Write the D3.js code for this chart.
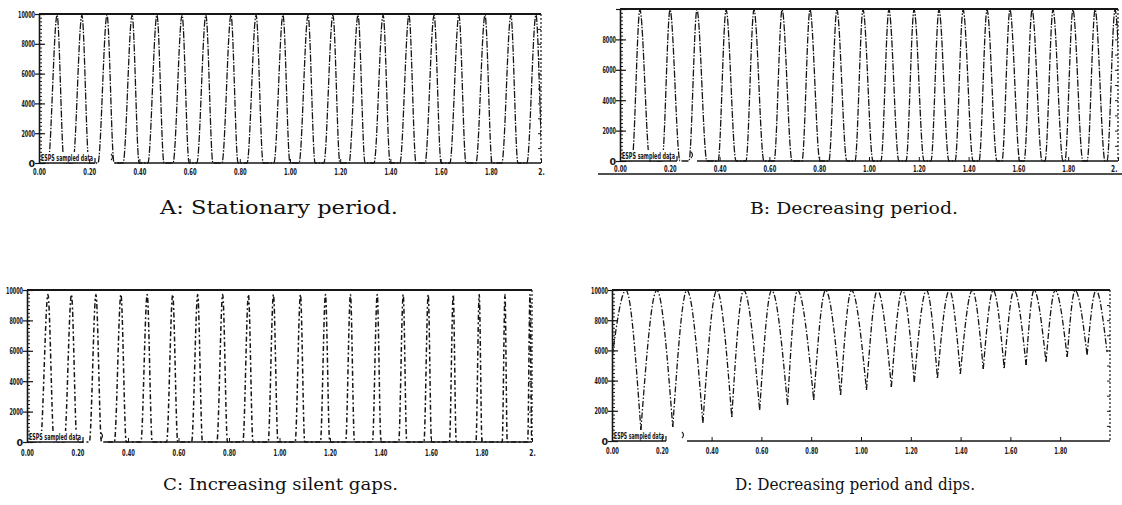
<!DOCTYPE html>
<html><head><meta charset="utf-8">
<script src="https://cdn.jsdelivr.net/npm/d3@7"></script>
<style>body{margin:0;background:#fff}svg{display:block}</style>
</head><body>
<svg id="c" width="1122" height="505"></svg>
<script>
// ---------- tick values / labels ----------
const yTickValues = [0, 2000, 4000, 6000, 8000, 10000];
const yTickLabels = ["0", "2000", "4000", "6000", "8000", "10000"];
const xTickValues = [0, 0.2, 0.4, 0.6, 0.8, 1.0, 1.2, 1.4, 1.6, 1.8, 2.0];
const xTickLabels = ["0.00","0.20","0.40","0.60","0.80","1.00","1.20","1.40","1.60","1.80","2."];
const boxText = "ESPS sampled data";
const captions = ["A: Stationary period.", "B: Decreasing period.", "C: Increasing silent gaps.", "D: Decreasing period and dips."];

// ---------- A: stationary period (pulse opening, peak, closing times in s) ----------
const aOpen  = [0.036,0.135,0.235,0.335,0.434,0.534,0.629,0.729,0.829,0.936,1.036,1.135,1.235,1.335,1.438,1.538,1.637,1.741,1.844,1.944];
const aPeak  = [0.072,0.171,0.271,0.371,0.470,0.570,0.665,0.765,0.865,0.972,1.072,1.171,1.271,1.371,1.474,1.574,1.673,1.777,1.880,1.980];
const aClose = [0.100,0.199,0.299,0.399,0.498,0.598,0.693,0.793,0.893,1.000,1.100,1.199,1.299,1.399,1.502,1.602,1.701,1.805,1.908,2.008];
const aAmp = 9930;

// ---------- B: decreasing period ----------
const bOpen  = [0.048,0.169,0.277,0.394,0.506,0.619,0.731,0.839,0.944,1.048,1.149,1.249,1.346,1.442,1.534,1.623,1.707,1.787,1.876,1.956];
const bPeak  = [0.080,0.201,0.309,0.426,0.538,0.651,0.763,0.871,0.976,1.080,1.181,1.281,1.378,1.474,1.566,1.655,1.739,1.819,1.908,1.988];
const bClose = [0.120,0.241,0.349,0.466,0.578,0.691,0.803,0.911,1.016,1.120,1.221,1.321,1.418,1.514,1.606,1.695,1.779,1.859,1.948,2.028];
const bAmp = 9950;

// ---------- C: increasing silent gaps ----------
const cOpen  = [0.053,0.148,0.247,0.346,0.451,0.553,0.652,0.752,0.855,0.955,1.062,1.162,1.262,1.368,1.472,1.572,1.673,1.778,1.882,1.983];
const cPeak  = [0.083,0.176,0.273,0.372,0.476,0.577,0.676,0.775,0.877,0.976,1.083,1.182,1.281,1.387,1.490,1.589,1.688,1.791,1.893,1.992];
const cClose = [0.107,0.198,0.295,0.393,0.496,0.597,0.695,0.794,0.895,0.994,1.100,1.199,1.297,1.402,1.504,1.602,1.700,1.802,1.902,1.999];
const cAmp = 9700;

// ---------- D: decreasing period and dips ----------
const dStart = 5500;
const dPeak   = [0.056,0.180,0.301,0.421,0.529,0.641,0.745,0.858,0.962,1.066,1.166,1.263,1.355,1.447,1.531,1.615,1.695,1.780,1.860,1.944];
const dDip    = [0.116,0.244,0.365,0.481,0.593,0.705,0.810,0.918,1.022,1.122,1.214,1.307,1.399,1.491,1.575,1.663,1.743,1.828,1.908,1.988];
const dDipVal = [730,930,1190,1590,2050,2380,2720,3050,3380,3580,3910,4170,4440,4770,4830,5030,5230,5560,5700,5890];
const dAmp = 9980;

// ---------- layout ----------
const panels = [
  {key:"A", x0:39,  x1:541,  yTop:14,  yBot:163, boxEnd:95,  markX:112, baseStart:115, labelY:175, topLabel:true,  dash:"7,1.5,1.5,1.5", capX:160, capY:214, capW:238, capFs:18},
  {key:"B", x0:620, x1:1118, yTop:9,   yBot:161, boxEnd:677, markX:692, baseStart:697, labelY:172, topLabel:false, dash:"7,1.5,1.5,1.5", capX:750, capY:214, capW:208, capFs:17, underline:174, lastEnd:true},
  {key:"C", x0:27,  x1:532,  yTop:290, yBot:442, boxEnd:83,  markX:102, baseStart:105, labelY:456, topLabel:true,  dash:"2,2.5,5,2.5",   capX:163, capY:490, capW:235, capFs:17},
  {key:"D", x0:612, x1:1110, yTop:290, yBot:441, boxEnd:666, markX:683, baseStart:687, labelY:454, topLabel:true,  dash:"6,2,1.5,2",     capX:735, capY:490, capW:240, capFs:17, noLast:true}
];

const svg = d3.select("#c");
const defs = svg.append("defs");
const ink = "#161616";

function pulsePoints(open, peak, close, amp) {
  const pts = [[0, 0]];
  for (let i = 0; i < peak.length; i++) {
    pts.push([open[i], 0], [peak[i], amp], [close[i], 0]);
  }
  pts.push([2.1, 0]);
  return pts;
}

panels.forEach((p, pi) => {
  const x = d3.scaleLinear().domain([0, 2]).range([p.x0, p.x1]);
  const y = d3.scaleLinear().domain([0, 10000]).range([p.yBot, p.yTop]);
  const g = svg.append("g");

  defs.append("clipPath").attr("id", "clip" + p.key).append("rect")
    .attr("x", p.x0).attr("y", p.yTop - 1).attr("width", p.x1 - p.x0).attr("height", p.yBot - p.yTop + 2);

  const line = d3.line().x(d => x(d[0])).y(d => y(d[1])).curve(d3.curveMonotoneX);
  const wave = g.append("g").attr("clip-path", "url(#clip" + p.key + ")");

  if (p.key === "D") {
    let prev = [0, dStart];
    for (let i = 0; i < dPeak.length; i++) {
      const seg = [prev, [dPeak[i], dAmp], [dDip[i], dDipVal[i]]];
      wave.append("path").attr("d", line(seg)).attr("fill", "none")
        .attr("stroke", ink).attr("stroke-width", 1.3).attr("stroke-dasharray", p.dash);
      prev = seg[2];
    }
  } else {
    let pts;
    if (p.key === "A") pts = pulsePoints(aOpen, aPeak, aClose, aAmp);
    if (p.key === "B") pts = pulsePoints(bOpen, bPeak, bClose, bAmp);
    if (p.key === "C") pts = pulsePoints(cOpen, cPeak, cClose, cAmp);
    wave.append("path").attr("d", line(pts)).attr("fill", "none")
      .attr("stroke", ink).attr("stroke-width", p.key === "C" ? 1.5 : 1.3)
      .attr("stroke-dasharray", p.dash);
  }

  // ESPS label box
  g.append("rect").attr("x", p.x0).attr("y", p.yBot - 11).attr("width", p.boxEnd - p.x0).attr("height", 11).attr("fill", "#fff");
  g.append("text").attr("x", p.x0 + 2).attr("y", p.yBot - 2)
    .attr("font-family", "DejaVu Sans, sans-serif").attr("font-size", 9).attr("font-weight", "bold")
    .attr("fill", ink).attr("textLength", p.boxEnd - p.x0 - 4).attr("lengthAdjust", "spacingAndGlyphs").text(boxText);
  g.append("line").attr("x1", p.x0).attr("x2", p.boxEnd).attr("y1", p.yBot).attr("y2", p.yBot).attr("stroke", ink).attr("stroke-width", 1.6);
  g.append("line").attr("x1", p.boxEnd).attr("x2", p.boxEnd).attr("y1", p.yBot - 5).attr("y2", p.yBot).attr("stroke", ink).attr("stroke-width", 1.2);
  // small cursor mark after the box
  g.append("path").attr("d", `M${p.markX - 1},${p.yBot - 9} q3,3 0,6`).attr("fill", "none").attr("stroke", ink).attr("stroke-width", 1.1);

  // frame: top, bottom baseline, right dotted
  g.append("line").attr("x1", p.x0).attr("x2", p.x1).attr("y1", p.yTop).attr("y2", p.yTop).attr("stroke", ink).attr("stroke-width", 2);
  g.append("line").attr("x1", p.baseStart).attr("x2", p.x1).attr("y1", p.yBot).attr("y2", p.yBot).attr("stroke", ink).attr("stroke-width", 1.6);
  g.append("line").attr("x1", p.x1).attr("x2", p.x1).attr("y1", p.yTop).attr("y2", p.yBot).attr("stroke", ink)
    .attr("stroke-width", 1.2).attr("stroke-dasharray", "2,2");

  // left axis: minor ticks
  const minor = d3.axisLeft(y).tickValues(d3.range(0, 10001, 250)).tickSizeInner(-3).tickSizeOuter(0).tickFormat("");
  const gm = g.append("g").attr("transform", `translate(${p.x0},0)`).call(minor);
  gm.select(".domain").attr("stroke", ink).attr("stroke-width", 1.6);
  gm.selectAll(".tick line").attr("stroke", ink).attr("stroke-width", 1);

  // left axis: major ticks + labels
  const major = d3.axisLeft(y).tickValues(yTickValues).tickSizeInner(-6).tickSizeOuter(0).tickPadding(4)
    .tickFormat((d, i) => (i === yTickLabels.length - 1 && !p.topLabel) ? "" : yTickLabels[i]);
  const gy = g.append("g").attr("transform", `translate(${p.x0},0)`).call(major);
  gy.select(".domain").remove();
  gy.selectAll(".tick line").attr("stroke", ink).attr("stroke-width", 1.2);
  gy.selectAll(".tick").append("line").attr("x1", -4).attr("x2", 0).attr("stroke", ink).attr("stroke-width", 1.2);
  gy.selectAll("text").filter(function() { return d3.select(this).text() === ""; }).remove();
  gy.selectAll("text").attr("font-family", "DejaVu Sans, sans-serif").attr("font-size", 9.5).attr("font-weight", "bold")
    .attr("fill", ink).attr("x", -4)
    .each(function() { const t = d3.select(this).text(); if (t.length > 1) d3.select(this).attr("textLength", t.length * 3.4).attr("lengthAdjust", "spacingAndGlyphs"); });

  // right axis ticks (inward)
  const right = d3.axisRight(y).tickValues(d3.range(1000, 10000, 1000)).tickSizeInner(-3).tickSizeOuter(0).tickFormat("");
  const gr = g.append("g").attr("transform", `translate(${p.x1},0)`).call(right);
  gr.select(".domain").remove();
  gr.selectAll(".tick line").attr("stroke", ink).attr("stroke-width", 1);

  // bottom axis
  const xv = p.noLast ? xTickValues.slice(0, -1) : xTickValues;
  const bottom = d3.axisBottom(x).tickValues(xv).tickSizeInner(-4).tickSizeOuter(0)
    .tickFormat(d => xTickLabels[xTickValues.indexOf(d)]);
  const gx = g.append("g").attr("transform", `translate(0,${p.yBot})`).call(bottom);
  gx.select(".domain").remove();
  gx.selectAll(".tick line").attr("stroke", ink).attr("stroke-width", 1);
  gx.selectAll("text").attr("font-family", "DejaVu Sans, sans-serif").attr("font-size", 9.5).attr("font-weight", "bold")
    .attr("fill", ink).attr("y", p.labelY - p.yBot).attr("dy", 0)
    .each(function(d) {
      const s = d3.select(this), t = s.text();
      s.attr("textLength", t.length * 3.2).attr("lengthAdjust", "spacingAndGlyphs");
      if (p.lastEnd && d === 2.0) s.attr("text-anchor", "end").attr("x", -1);
    });

  if (p.underline) {
    g.append("line").attr("x1", p.x0 - 22).attr("x2", 1122).attr("y1", p.underline).attr("y2", p.underline).attr("stroke", ink).attr("stroke-width", 1.4);
  }

  // caption
  svg.append("text").attr("x", p.capX).attr("y", p.capY)
    .attr("font-family", "DejaVu Serif, serif").attr("font-size", p.capFs).attr("fill", "#111")
    .attr("textLength", p.capW).attr("lengthAdjust", "spacingAndGlyphs").text(captions[pi]);
});
</script>
</body></html>
